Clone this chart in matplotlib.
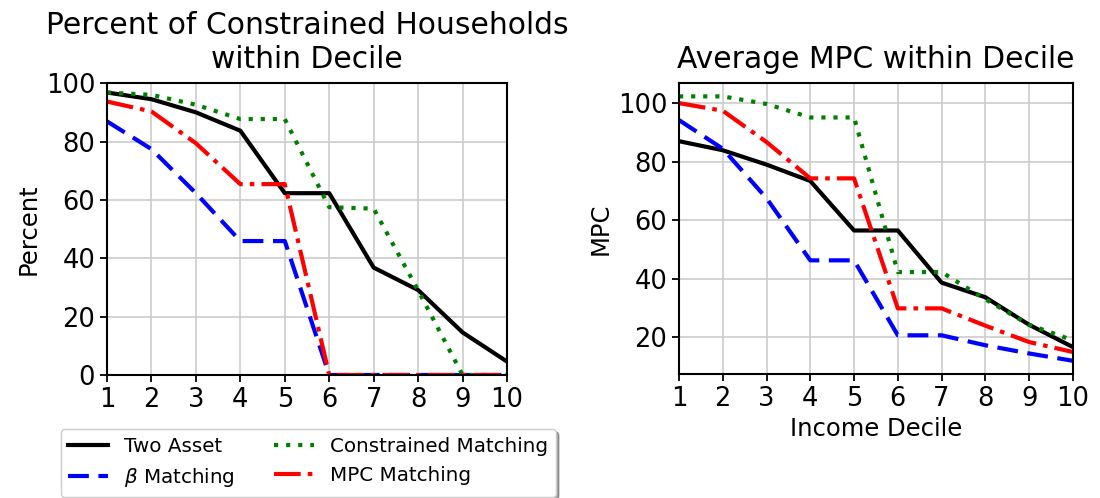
import numpy as np
import matplotlib
matplotlib.use("Agg")
import matplotlib.pyplot as plt

plt.rcParams.update({
    'font.family': 'DejaVu Sans',
    'xtick.labelsize': 18.5,
    'ytick.labelsize': 18.5,
    'axes.labelsize': 17.5,
    'axes.titlesize': 21.4,
    'axes.titlepad': 11,
    'axes.linewidth': 1.5,
    'xtick.major.size': 5,
    'ytick.major.size': 5,
    'xtick.major.width': 1.3,
    'ytick.major.width': 1.3,
})

# ---------------- data ----------------
deciles = [1, 2, 3, 4, 5, 6, 7, 8, 9, 10]

# percent constrained within decile
pct_two_asset = [96.8, 94.5, 90.0, 83.7, 62.3, 62.3, 36.8, 29.1, 14.6, 4.6]
pct_beta = [86.9, 77.4, 62.3, 45.9, 45.9, 0.0, 0.0, 0.0, 0.0, 0.0]
pct_constrained = [96.8, 96.0, 92.6, 87.7, 87.7, 57.5, 57.0, 29.0, 0.0, 0.0]
pct_mpc = [93.7, 90.3, 79.4, 65.4, 65.4, 0.0, 0.0, 0.0, 0.0, 0.0]

# average MPC within decile
mpc_two_asset = [87.0, 83.9, 79.0, 73.4, 56.5, 56.5, 38.7, 33.7, 24.3, 16.7]
mpc_beta = [94.2, 84.4, 67.5, 46.3, 46.3, 20.7, 20.7, 17.3, 14.5, 12.0]
mpc_constrained = [102.3, 102.3, 99.7, 95.1, 95.1, 42.3, 42.3, 33.0, 24.3, 19.0]
mpc_mpc = [100.0, 97.4, 86.7, 74.3, 74.3, 29.9, 29.9, 24.0, 18.4, 15.0]

labels = ['Two Asset', r'$\beta$ Matching', 'Constrained Matching', 'MPC Matching']
# colour, dash pattern (in units of line width)
styles = [('black', '-'),
          ('blue', (0, (5.0, 2.3))),
          ('green', (0, (1.0, 1.9))),
          ('red', (0, (6.4, 1.7, 1.1, 1.7)))]
LW = 3.0

fig = plt.figure(figsize=(11, 4.98), dpi=100)
ax1 = fig.add_axes([0.0973, 0.247, 0.3636, 0.586])
ax2 = fig.add_axes([0.6173, 0.249, 0.358, 0.584])

handles = []
for y, lab, (c, ls) in zip([pct_two_asset, pct_beta, pct_constrained, pct_mpc], labels, styles):
    h, = ax1.plot(deciles, y, color=c, linestyle=ls, lw=LW, label=lab)
    handles.append(h)
for y, (c, ls) in zip([mpc_two_asset, mpc_beta, mpc_constrained, mpc_mpc], styles):
    ax2.plot(deciles, y, color=c, linestyle=ls, lw=LW)

ax1.set_title('Percent of Constrained Households\nwithin Decile')
ax1.set_ylabel('Percent')
ax1.set_xlim(1, 10)
ax1.set_ylim(0, 100)

ax2.set_title('Average MPC within Decile')
ax2.set_ylabel('MPC')
ax2.set_xlabel('Income Decile')
ax2.set_xlim(1, 10)
ax2.set_yticks([20, 40, 60, 80, 100])

for ax in (ax1, ax2):
    ax.set_xticks(deciles)
    ax.grid(True, color='#cccccc', lw=1.2)

fig.legend(handles=handles, ncol=2, loc='upper left',
           bbox_to_anchor=(0.055, 1 - 429 / 498), fontsize=14.3,
           shadow=True, framealpha=1, columnspacing=2.0,
           handlelength=2.0, borderaxespad=0)

fig.savefig('out.png', dpi=100)
